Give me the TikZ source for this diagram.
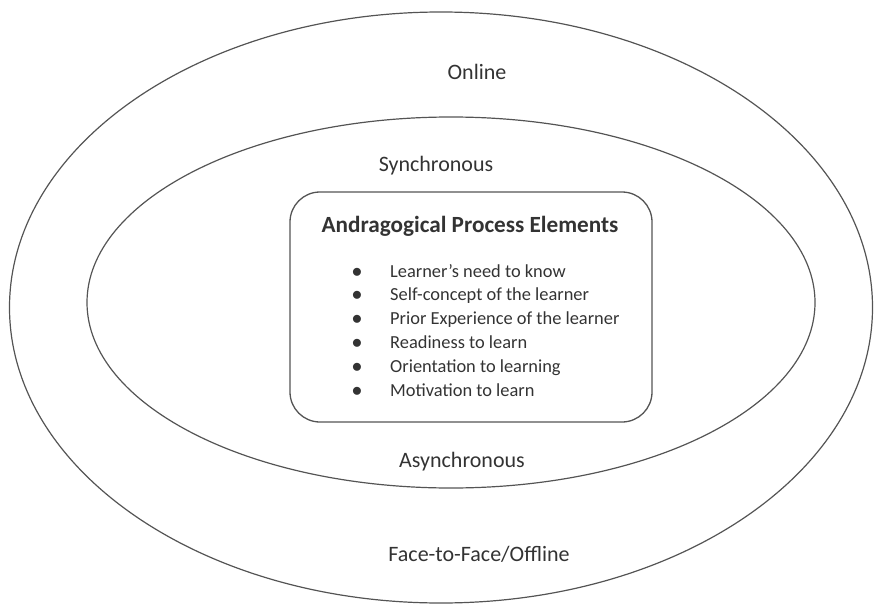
\documentclass[tikz,border=0pt]{standalone}
\usepackage{fontspec}
\setmainfont{Carlito}
\usetikzlibrary{shapes.geometric, positioning}
\definecolor{LineGray}{rgb}{0.33, 0.33, 0.33}
\definecolor{TextGray}{rgb}{0.2, 0.2, 0.2}

\begin{document}
\begin{tikzpicture}[
    x=1pt, y=-1pt,
    ring/.style={draw=LineGray, line width=1.2pt, ellipse, inner sep=0pt},
    label/.style={text=TextGray, font=\fontsize{22}{26}\selectfont, anchor=base, inner sep=0pt},
    item/.style={text=TextGray, font=\fontsize{18.4}{22}\selectfont, anchor=base west, inner sep=0pt},
]
\useasboundingbox (0,0) rectangle (875,607);

% --- ellipses ---
\node[ring, minimum width=863pt, minimum height=591pt] (outer) at (441,307.5) {};
\node[ring, minimum width=728pt, minimum height=371pt] (inner) at (451,302.5) {};

% --- ellipse labels ---
\node[label] (online) at (477,80) {Online};
\node[label] (sync) at (436,171) {Synchronous};
\node[label] (async) at (462,467) {Asynchronous};
\node[label] (offline) at (479,561) {Face-to-Face/Offline};

% --- process elements box ---
\node[draw=LineGray, line width=1.3pt, rounded corners=30pt, minimum width=362pt,
      minimum height=230pt] (box) at (471,307) {};
\node[text=TextGray, font=\fontsize{23.2}{26}\selectfont\bfseries, anchor=base, inner sep=0pt]
    (title) at (470,232) {Andragogical Process Elements};

\foreach \txt [count=\i] in {Learner's need to know, Self-concept of the learner,
    Prior Experience of the learner, Readiness to learn, Orientation to learning,
    Motivation to learn}{
  \node[item] (item\i) at (390,{277+23.8*(\i-1)}) {\txt};
  \node[text=TextGray, font=\fontsize{20}{22}\selectfont, anchor=base, inner sep=0pt]
      (dot\i) at (357,{277+23.8*(\i-1)}) {$\bullet$};
}

\end{tikzpicture}
\end{document}
